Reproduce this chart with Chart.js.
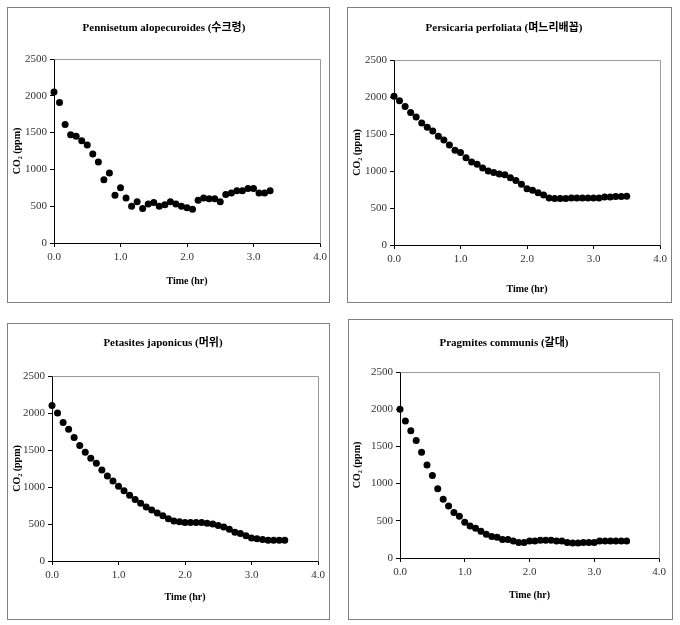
<!DOCTYPE html>
<html>
<head>
<meta charset="utf-8">
<script src="https://cdn.jsdelivr.net/npm/chart.js@4.4.0/dist/chart.umd.min.js"></script>
<style>
  body { margin: 0; background: #fff; width: 680px; height: 625px; position: relative; overflow: hidden; }
  .panel { position: absolute; border: 1px solid #808080; background: #fff; }
  .panel canvas { display: block; }
</style>
</head>
<body>
<div class="panel" style="left:7px;top:7px;"><canvas id="c1" width="321" height="294"></canvas></div>
<div class="panel" style="left:347px;top:7px;"><canvas id="c2" width="323" height="294"></canvas></div>
<div class="panel" style="left:7px;top:323px;"><canvas id="c3" width="321" height="295"></canvas></div>
<div class="panel" style="left:348px;top:319px;"><canvas id="c4" width="323" height="299"></canvas></div>

<script>
// sampling times (hr), every 5 min
const times = [0.000, 0.083, 0.167, 0.250, 0.333, 0.417, 0.500, 0.583, 0.667, 0.750,
  0.833, 0.917, 1.000, 1.083, 1.167, 1.250, 1.333, 1.417, 1.500, 1.583,
  1.667, 1.750, 1.833, 1.917, 2.000, 2.083, 2.167, 2.250, 2.333, 2.417,
  2.500, 2.583, 2.667, 2.750, 2.833, 2.917, 3.000, 3.083, 3.167, 3.250,
  3.333, 3.417, 3.500];

// CO2 (ppm)
const pennisetum = [2050, 1910, 1610, 1470, 1450, 1390, 1330, 1210, 1100, 860,
  950, 650, 750, 610, 500, 560, 470, 530, 550, 500,
  520, 560, 530, 500, 480, 460, 580, 610, 600, 600,
  560, 660, 680, 710, 710, 740, 740, 680, 680, 710];

const persicaria = [2010, 1950, 1870, 1790, 1730, 1650, 1590, 1540, 1470, 1420,
  1350, 1280, 1250, 1180, 1120, 1090, 1040, 1000, 980, 960,
  950, 910, 870, 820, 760, 740, 705, 675, 635, 630,
  630, 630, 635, 635, 635, 635, 635, 635, 650, 650,
  655, 655, 660];

const petasites = [2100, 2000, 1870, 1780, 1670, 1560, 1470, 1390, 1320, 1230,
  1150, 1080, 1010, 950, 890, 830, 780, 730, 690, 650,
  610, 570, 540, 530, 520, 520, 520, 520, 510, 500,
  480, 460, 430, 390, 370, 340, 310, 300, 290, 280,
  280, 280, 280];

const phragmites = [2000, 1840, 1710, 1580, 1420, 1250, 1110, 930, 790, 700,
  610, 560, 480, 430, 400, 360, 320, 290, 280, 250,
  250, 230, 210, 210, 230, 230, 240, 240, 240, 230,
  230, 210, 200, 200, 210, 210, 210, 230, 230, 230,
  230, 230, 230];

const xTicks = [0, 1, 2, 3, 4];
const yTicks = [0, 500, 1000, 1500, 2000, 2500];

const serif = "'Liberation Serif', 'Times New Roman', 'Noto Sans CJK KR', serif";

// light grey frame on top and right of plot area
const framePlugin = {
  id: "frame",
  beforeDatasetsDraw(chart) {
    const { ctx, chartArea: a } = chart;
    ctx.save();
    ctx.strokeStyle = "#9a9a9a";
    ctx.lineWidth = 1;
    ctx.beginPath();
    ctx.moveTo(Math.round(a.left) + 0.5, Math.round(a.top) + 0.5);
    ctx.lineTo(Math.round(a.right) + 0.5, Math.round(a.top) + 0.5);
    ctx.lineTo(Math.round(a.right) + 0.5, Math.round(a.bottom) + 0.5);
    ctx.stroke();
    ctx.restore();
  }
};

function makeChart(id, title, values, g) {
  const pts = values.map((v, i) => ({ x: times[i], y: v }));
  return new Chart(document.getElementById(id), {
    type: "scatter",
    data: {
      datasets: [{
        data: pts,
        backgroundColor: "#000",
        borderWidth: 0,
        pointRadius: 3.5,
        pointHoverRadius: 3.5,
        clip: false
      }]
    },
    options: {
      responsive: false,
      animation: false,
      devicePixelRatio: 1,
      layout: { padding: { left: 0, right: g.padR, top: 0, bottom: 0 } },
      plugins: {
        legend: { display: false },
        tooltip: { enabled: false },
        title: {
          display: true,
          text: title,
          color: "#000",
          font: { family: serif, size: 11, weight: "bold" },
          padding: { top: g.titleY - 6.6, bottom: g.top - 13.2 - (g.titleY - 6.6) }
        }
      },
      scales: {
        x: {
          type: "linear",
          min: 0, max: 4,
          afterBuildTicks: s => { s.ticks = xTicks.map(v => ({ value: v })); },
          afterFit: s => { s.height = g.bottom; s.paddingLeft = 0; s.paddingRight = 0; },
          ticks: {
            color: "#333",
            font: { family: serif, size: 11 },
            padding: 4,
            maxRotation: 0,
            callback: v => v.toFixed(1)
          },
          grid: { drawOnChartArea: false, drawTicks: true, tickLength: 4, color: "#000" },
          border: { display: true, color: "#000", width: 1 },
          title: {
            display: true,
            text: "Time (hr)",
            color: "#000",
            font: { family: serif, size: 10, weight: "bold" },
            padding: { top: 0, bottom: g.xTitle - 6 }
          }
        },
        y: {
          min: 0, max: 2500,
          afterBuildTicks: s => { s.ticks = yTicks.map(v => ({ value: v })); },
          afterFit: s => { s.width = g.left; },
          ticks: {
            color: "#333",
            font: { family: serif, size: 11 },
            padding: 3,
            callback: v => String(v)
          },
          grid: { drawOnChartArea: false, drawTicks: true, tickLength: 4, color: "#000" },
          border: { display: true, color: "#000", width: 1 },
          title: {
            display: true,
            text: "CO\u2082 (ppm)",
            color: "#000",
            font: { family: serif, size: 10, weight: "bold" },
            padding: { top: g.yTitle - 6, bottom: 0 }
          }
        }
      }
    },
    plugins: [framePlugin]
  });
}

makeChart("c1", "Pennisetum alopecuroides (수크령)", pennisetum,
  { left: 46, padR: 9, titleY: 20, top: 51, bottom: 59, xTitle: 21, yTitle: 9 });
makeChart("c2", "Persicaria perfoliata (며느리배꼽)", persicaria,
  { left: 46, padR: 11, titleY: 20, top: 52, bottom: 57, xTitle: 13, yTitle: 9 });
makeChart("c3", "Petasites japonicus (머위)", petasites,
  { left: 44, padR: 11, titleY: 19, top: 52, bottom: 58, xTitle: 22, yTitle: 9 });
makeChart("c4", "Pragmites communis (갈대)", phragmites,
  { left: 51, padR: 13, titleY: 23, top: 52, bottom: 61, xTitle: 24, yTitle: 8 });
</script>
</body>
</html>
